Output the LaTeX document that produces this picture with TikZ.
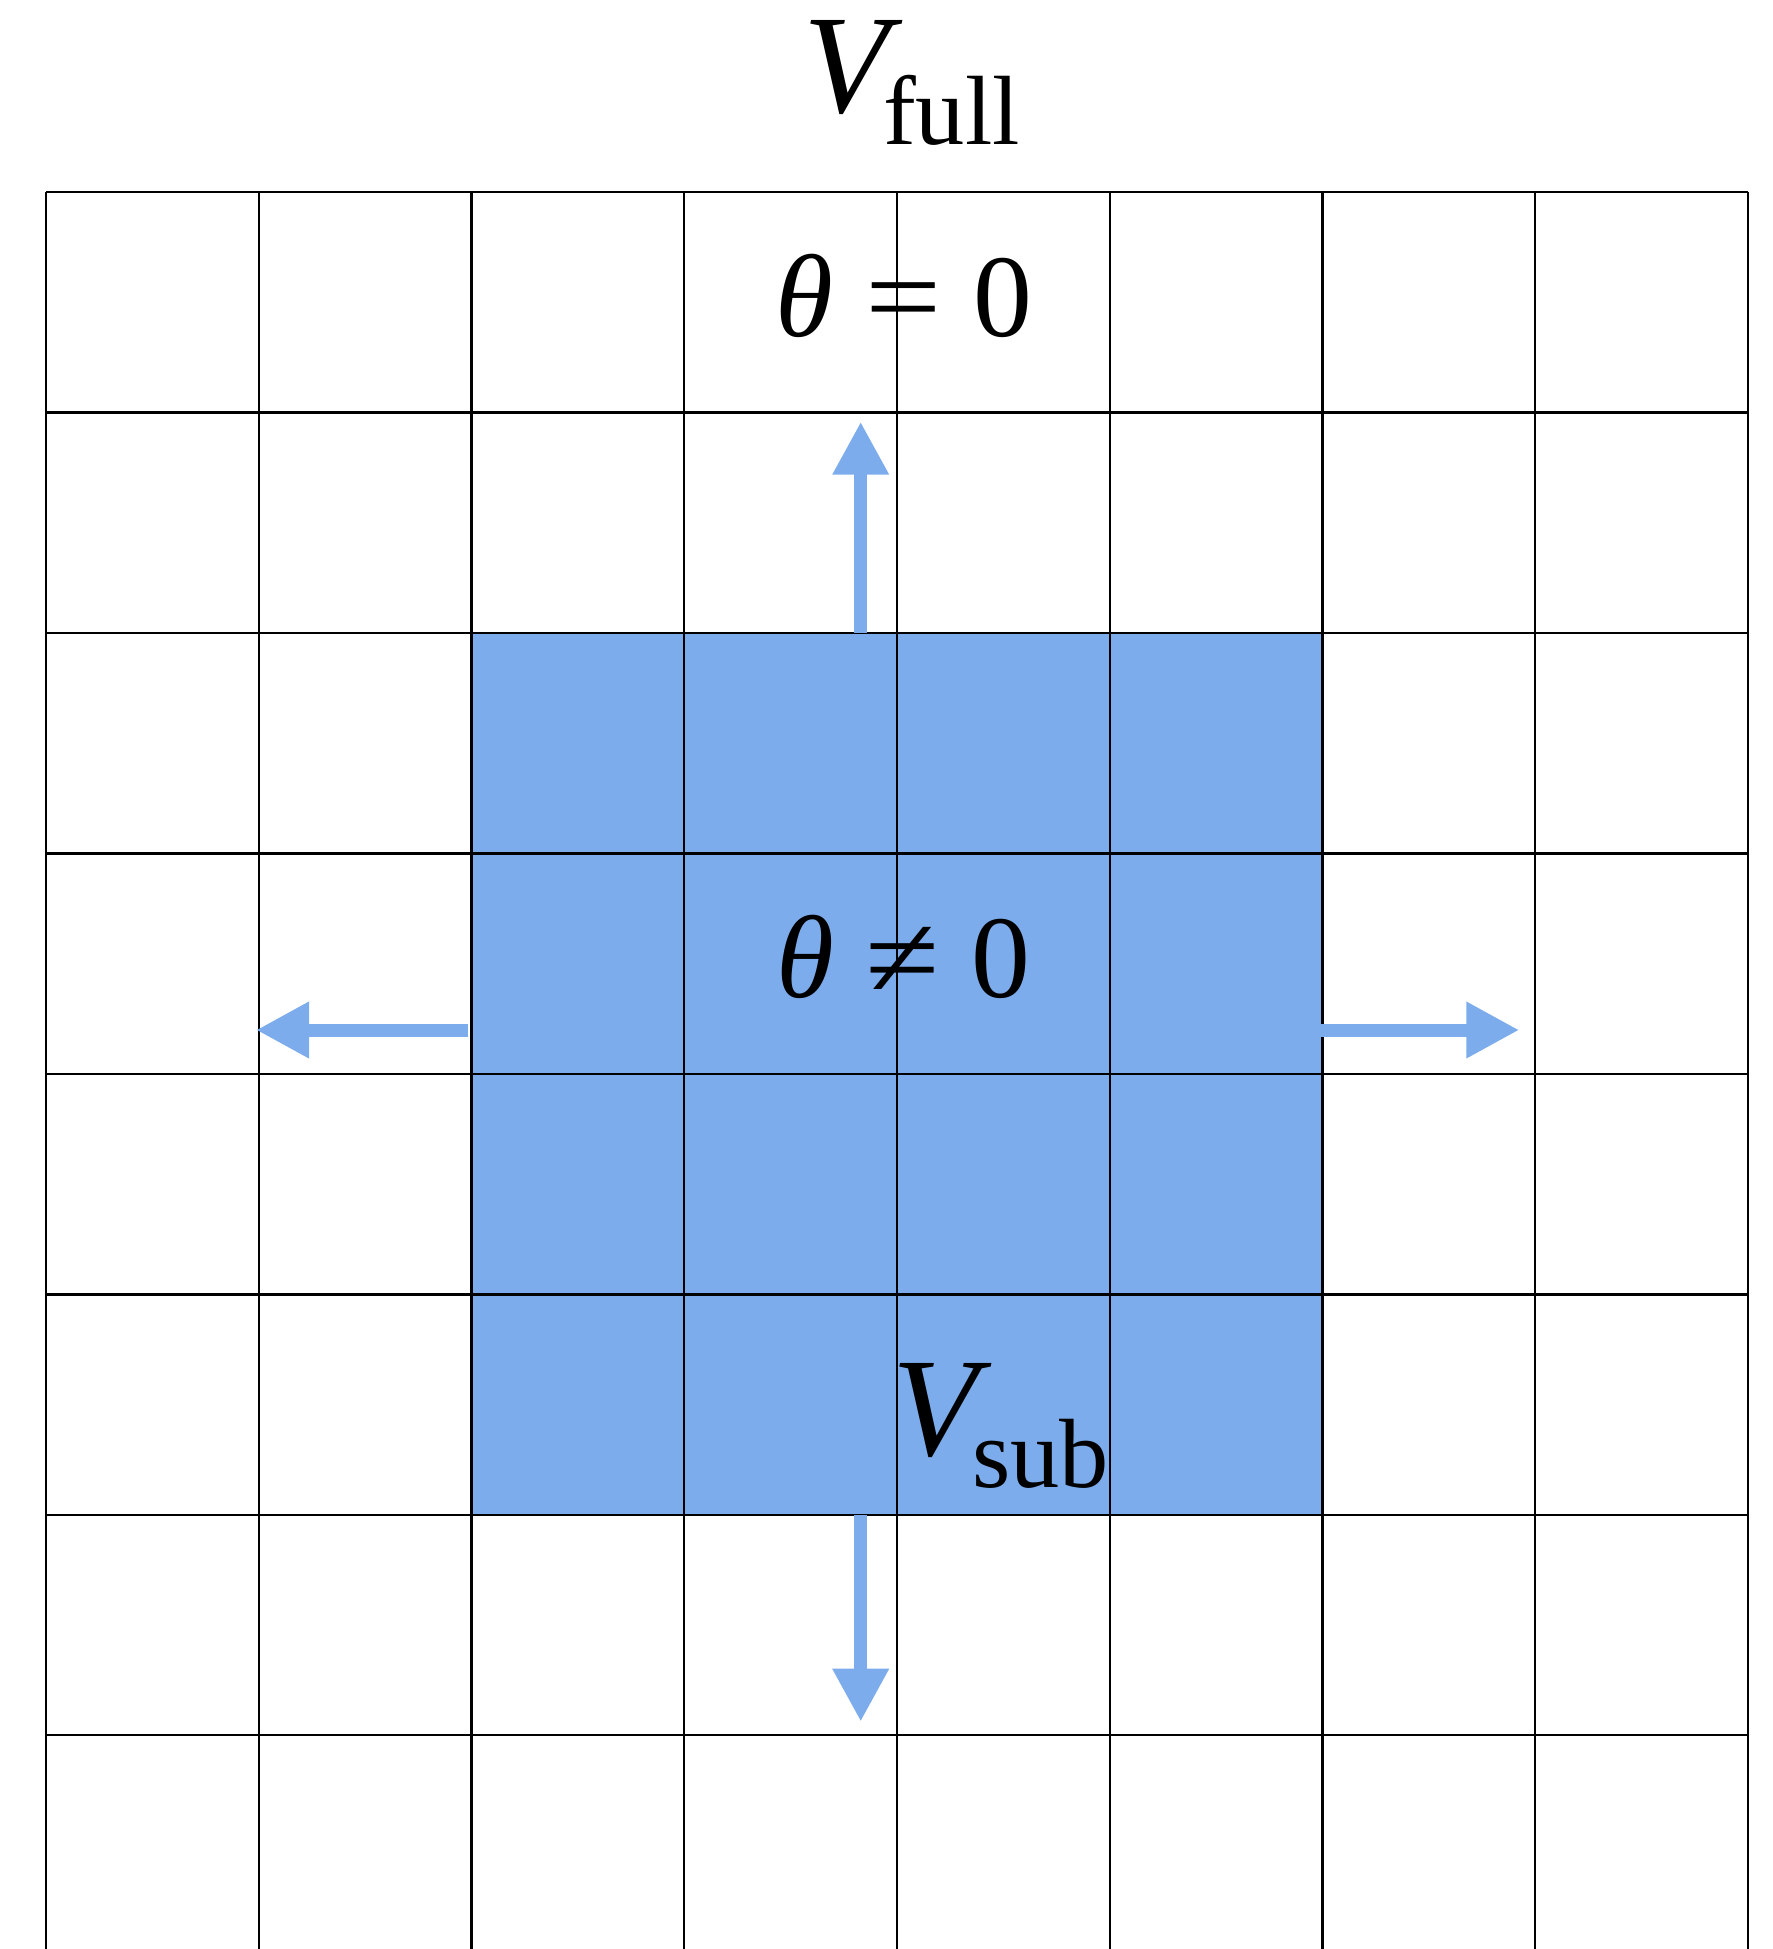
\documentclass[tikz,border=0pt]{standalone}
\usepackage{fontspec}
\setmainfont{Liberation Serif}
\usetikzlibrary{arrows.meta}
\definecolor{subblue}{RGB}{124,172,236}
\newcommand{\vol}[1]{\textit{V}\kern-0.2cm\raisebox{-0.32cm}{\fontsize{28}{34}\selectfont #1}}
\newcommand{\rel}[1]{\hspace{0.27em}\scalebox{1.15}[1]{#1}\hspace{0.27em}}
\tikzset{
  gridline/.style={draw=black, line width=0.024cm},
  growarrow/.style={draw=subblue, line width=0.13cm,
               -{Triangle[length=0.53cm, width=0.53cm]}},
  vlabel/.style={font=\fontsize{40}{48}\selectfont, inner sep=0pt, anchor=base west},
  thlabel/.style={font=\fontsize{33.5}{40}\selectfont, inner sep=0pt, anchor=base},
}

\begin{document}
\begin{tikzpicture}
\def\cw{2.1275}
\def\ch{2.204}
\def\yb{-17.567}
\useasboundingbox (-0.46,1.923) rectangle (17.27,\yb);

% the sub-volume: 4 x 4 cells in the middle
\fill[subblue] (2*\cw,-2*\ch) rectangle (6*\cw,-6*\ch);

% the lattice, running off the bottom edge
\foreach \i in {0,...,8}
  \draw[gridline] (\i*\cw,0) -- (\i*\cw,\yb);
\foreach \j in {0,...,7}
  \draw[gridline] (0,-\j*\ch) -- (8*\cw,-\j*\ch);

% growth of the sub-volume in the four directions
\coordinate (upS) at (8.147,-2*\ch);
\coordinate (upE) at (8.147,-2.294);
\coordinate (dnS) at (8.147,-6*\ch);
\coordinate (dnE) at (8.147,-15.294);
\coordinate (lfS) at (4.22,-8.377);
\coordinate (lfE) at (2.10,-8.377);
\coordinate (rtS) at (12.74,-8.377);
\coordinate (rtE) at (14.733,-8.377);
\draw[growarrow] (upS) -- (upE);
\draw[growarrow] (dnS) -- (dnE);
\draw[growarrow] (lfS) -- (lfE);
\draw[growarrow] (rtS) -- (rtE);

\node[vlabel] (vfull) at (7.57,0.793) {\vol{full}};
\node[thlabel] (zero) at (8.58,-1.442) {\textit{θ}\rel{=}0};
\node[thlabel] (nonzero) at (8.575,-8.052) {\textit{θ}\rel{≠}0};
\node[vlabel] (vsub) at (8.46,-12.627) {\vol{sub}};
\end{tikzpicture}
\end{document}
